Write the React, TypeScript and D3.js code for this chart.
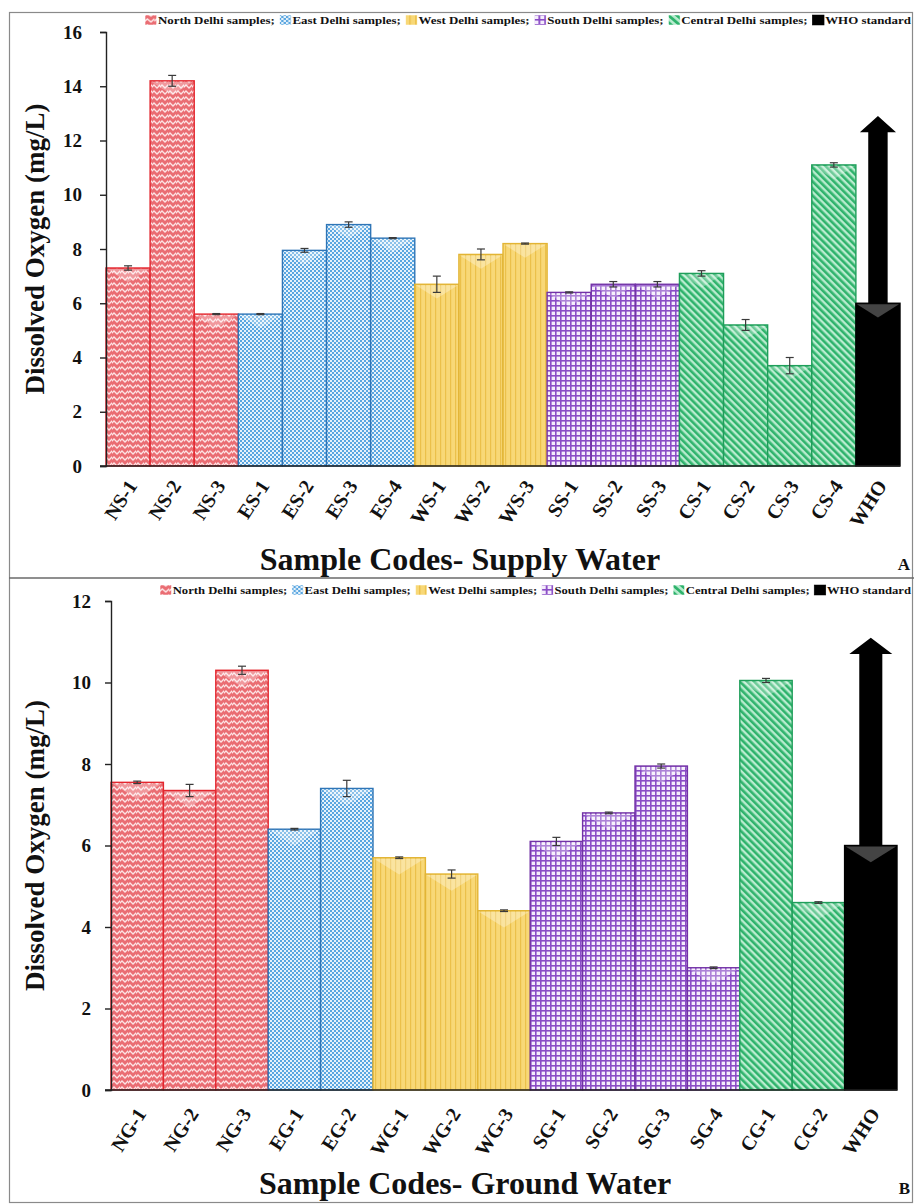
import React, { useEffect, useRef } from "react";
import * as d3 from "d3";

// supply water (panel A)
const supplyCodes = ["NS-1", "NS-2", "NS-3", "ES-1", "ES-2", "ES-3", "ES-4", "WS-1", "WS-2", "WS-3", "SS-1", "SS-2", "SS-3", "CS-1", "CS-2", "CS-3", "CS-4", "WHO"];
const supplyValues = [7.3, 14.2, 5.6, 5.6, 7.95, 8.9, 8.4, 6.7, 7.8, 8.2, 6.4, 6.7, 6.7, 7.1, 5.2, 3.7, 11.1, 6];
const supplyErrors = [0.08, 0.2, 0.02, 0.02, 0.07, 0.1, 0.02, 0.3, 0.2, 0.02, 0.02, 0.1, 0.1, 0.1, 0.2, 0.3, 0.08, 0];
const supplyTicks = [0, 2, 4, 6, 8, 10, 12, 14, 16];
const supplyArrow = [12.3, 12.9]; // head base, tip

// ground water (panel B)
const groundCodes = ["NG-1", "NG-2", "NG-3", "EG-1", "EG-2", "WG-1", "WG-2", "WG-3", "SG-1", "SG-2", "SG-3", "SG-4", "CG-1", "CG-2", "WHO"];
const groundValues = [7.55, 7.35, 10.3, 6.4, 7.4, 5.7, 5.3, 4.4, 6.1, 6.8, 7.95, 3.0, 10.05, 4.6, 6];
const groundErrors = [0.03, 0.15, 0.1, 0.02, 0.2, 0.02, 0.1, 0.02, 0.1, 0.02, 0.05, 0.02, 0.05, 0.02, 0];
const groundTicks = [0, 2, 4, 6, 8, 10, 12];
const groundArrow = [10.7, 11.1];

const regionKeys = ["N", "E", "W", "S", "C", "WHO"];
const regionLabels = ["North Delhi samples;", "East Delhi samples;", "West Delhi samples;", "South Delhi samples;", "Central Delhi samples;", "WHO standard"];

const FONT = "'Liberation Serif', 'Times New Roman', serif";

const strokeColors: Record<string, string> = {
  N: "#e3262e",
  E: "#2f75b6",
  W: "#e2b434",
  S: "#7232a6",
  C: "#1f9e5a",
  WHO: "#000",
};

function regionOf(code: string) {
  return code === "WHO" ? "WHO" : code[0];
}

function addPatterns(defs: any) {
  // north: white zigzag on red
  const n = defs.append("pattern").attr("id", "pat-N").attr("patternUnits", "userSpaceOnUse")
    .attr("width", 8).attr("height", 6);
  n.append("rect").attr("width", 8).attr("height", 6).attr("fill", "#ea6d73");
  n.append("path").attr("d", "M-1,4 L2,1 L5,4 L8,1 L11,4").attr("fill", "none")
    .attr("stroke", "#fde3e4").attr("stroke-width", 1.3);

  // east: small checker
  const e = defs.append("pattern").attr("id", "pat-E").attr("patternUnits", "userSpaceOnUse")
    .attr("width", 4).attr("height", 4);
  e.append("rect").attr("width", 4).attr("height", 4).attr("fill", "#e6f2fb");
  e.append("rect").attr("width", 2).attr("height", 2).attr("fill", "#5aa6e0");
  e.append("rect").attr("x", 2).attr("y", 2).attr("width", 2).attr("height", 2).attr("fill", "#5aa6e0");

  // west: vertical stripes
  const w = defs.append("pattern").attr("id", "pat-W").attr("patternUnits", "userSpaceOnUse")
    .attr("width", 5).attr("height", 5);
  w.append("rect").attr("width", 5).attr("height", 5).attr("fill", "#f8d877");
  w.append("rect").attr("width", 1.2).attr("height", 5).attr("fill", "#ebc04a");

  // south: grid
  const s = defs.append("pattern").attr("id", "pat-S").attr("patternUnits", "userSpaceOnUse")
    .attr("width", 5).attr("height", 5);
  s.append("rect").attr("width", 5).attr("height", 5).attr("fill", "#8a4cc6");
  s.append("rect").attr("x", 1.6).attr("y", 1.6).attr("width", 3.4).attr("height", 3.4).attr("fill", "#f4ecfb");

  // central: diagonal stripes
  const c = defs.append("pattern").attr("id", "pat-C").attr("patternUnits", "userSpaceOnUse")
    .attr("width", 5).attr("height", 5).attr("patternTransform", "rotate(-45)");
  c.append("rect").attr("width", 5).attr("height", 5).attr("fill", "#b9eccf");
  c.append("rect").attr("width", 2.6).attr("height", 5).attr("fill", "#2fb36c");

  const k = defs.append("pattern").attr("id", "pat-WHO").attr("patternUnits", "userSpaceOnUse")
    .attr("width", 4).attr("height", 4);
  k.append("rect").attr("width", 4).attr("height", 4).attr("fill", "#000");
}

function drawPanel(svg: any, o: any) {
  const g = svg.append("g");
  const x = d3.scaleBand().domain(o.codes).range([o.x0, o.x1]).padding(0);
  const y = d3.scaleLinear().domain([0, o.yMax]).range([o.yBottom, o.yTop]);
  const bw = x.bandwidth();

  // bars
  const bars = g.selectAll(".bar").data(o.codes).join("g").attr("class", "bar");
  bars.append("rect")
    .attr("x", (d: string) => x(d)!)
    .attr("y", (d: string, i: number) => y(o.values[i]))
    .attr("width", bw)
    .attr("height", (d: string, i: number) => y(0) - y(o.values[i]))
    .attr("fill", (d: string) => `url(#pat-${regionOf(d)})`)
    .attr("stroke", (d: string) => strokeColors[regionOf(d)])
    .attr("stroke-width", 1.4);
  // bevel highlight at the top
  bars.append("path")
    .attr("d", (d: string, i: number) => {
      const x0 = x(d)! + 1, x1 = x(d)! + bw - 1, t = y(o.values[i]) + 1;
      return `M${x0},${t} L${x1},${t} L${(x0 + x1) / 2},${t + bw * 0.3} Z`;
    })
    .attr("fill", (d: string) => (d === "WHO" ? "#555" : "#fff"))
    .attr("opacity", (d: string) => (d === "WHO" ? 0.8 : 0.3));

  // error bars
  const eb = g.selectAll(".err").data(o.codes.filter((d: string, i: number) => o.errors[i] > 0))
    .join("g").attr("class", "err").attr("stroke", "#3a3a3a").attr("stroke-width", 1.2);
  eb.each(function (this: any, d: string) {
    const i = o.codes.indexOf(d);
    const cx = x(d)! + bw / 2;
    const lo = y(o.values[i] - o.errors[i]), hi = y(o.values[i] + o.errors[i]);
    const s = d3.select(this);
    s.append("line").attr("x1", cx).attr("x2", cx).attr("y1", lo).attr("y2", hi);
    s.append("line").attr("x1", cx - 4).attr("x2", cx + 4).attr("y1", lo).attr("y2", lo);
    s.append("line").attr("x1", cx - 4).attr("x2", cx + 4).attr("y1", hi).attr("y2", hi);
  });

  // WHO arrow
  const wi = o.codes.indexOf("WHO");
  const wc = x("WHO")! + bw / 2;
  const sw = bw * 0.22, hw = bw * 0.41;
  const yTop = y(o.values[wi]), yBase = y(o.arrow[0]), yTip = y(o.arrow[1]);
  g.append("path")
    .attr("d", `M${wc - sw},${yTop} L${wc - sw},${yBase} L${wc - hw},${yBase} L${wc},${yTip} L${wc + hw},${yBase} L${wc + sw},${yBase} L${wc + sw},${yTop} Z`)
    .attr("fill", "#000");

  // axes
  const ya = g.append("g").attr("transform", `translate(${o.x0},0)`)
    .call(d3.axisLeft(y).tickValues(o.ticks).tickSize(6).tickSizeOuter(6).tickPadding(o.tickPad));
  ya.select(".domain").attr("stroke", "#222").attr("stroke-width", 1.4);
  ya.selectAll(".tick line").attr("stroke", "#222").attr("stroke-width", 1.4);
  ya.selectAll(".tick text").attr("font-family", FONT).attr("font-weight", "bold")
    .attr("font-size", 19).attr("fill", "#111");

  g.append("line").attr("x1", o.x0 - 6).attr("x2", o.x1).attr("y1", y(0)).attr("y2", y(0))
    .attr("stroke", "#222").attr("stroke-width", 1.6);

  // x labels
  g.selectAll(".xl").data(o.codes).join("text").attr("class", "xl")
    .attr("transform", (d: string) => `translate(${x(d)! + bw / 2 + 4},${y(0) + o.xlOff}) rotate(-57)`)
    .attr("text-anchor", "end")
    .attr("dy", "0.35em")
    .attr("font-family", FONT).attr("font-weight", "bold").attr("font-size", 20).attr("fill", "#111")
    .text((d: string) => d);

  // axis titles
  g.append("text")
    .attr("transform", `translate(${o.yTitleX},${(o.yTop + o.yBottom) / 2}) rotate(-90)`)
    .attr("text-anchor", "middle")
    .attr("font-family", FONT).attr("font-weight", "bold").attr("font-size", 27).attr("fill", "#111")
    .text("Dissolved Oxygen (mg/L)");
  g.append("text")
    .attr("x", o.xTitleX).attr("y", o.xTitleY).attr("text-anchor", "middle")
    .attr("font-family", FONT).attr("font-weight", "bold").attr("font-size", 32).attr("fill", "#111")
    .text(o.xTitle);
  g.append("text")
    .attr("x", 910).attr("y", o.xTitleY).attr("text-anchor", "end")
    .attr("font-family", FONT).attr("font-weight", "bold").attr("font-size", 17).attr("fill", "#111")
    .text(o.letter);

  // legend
  const lg = g.append("g").attr("transform", `translate(${o.legendX0},${o.legendY})`);
  let cx = 0;
  regionKeys.forEach((k, i) => {
    lg.append("rect").attr("x", cx).attr("y", -9).attr("width", 10).attr("height", 10)
      .attr("fill", `url(#pat-${k})`).attr("stroke", k === "WHO" ? "#000" : "#fff").attr("stroke-width", 0.5);
    cx += 11;
    const t = lg.append("text").attr("x", cx).attr("y", 0)
      .attr("font-family", FONT).attr("font-weight", "bold").attr("font-size", 11).attr("fill", "#111")
      .text(regionLabels[i]);
    cx += (t.node() as SVGTextElement).getComputedTextLength() + 4;
  });
  const scale = (o.legendX1 - o.legendX0) / (cx - 4);
  lg.attr("transform", `translate(${o.legendX0},${o.legendY}) scale(${scale},1)`);
}

export default function App() {
  const ref = useRef<SVGSVGElement>(null);

  useEffect(() => {
    const svg = d3.select(ref.current);
    svg.selectAll("*").remove();
    addPatterns(svg.append("defs"));

    // frame
    svg.append("rect").attr("x", 9.5).attr("y", 12.5).attr("width", 903).attr("height", 1190)
      .attr("fill", "none").attr("stroke", "#8a8a8a").attr("stroke-width", 1.2);
    svg.append("line").attr("x1", 9).attr("x2", 914).attr("y1", 578).attr("y2", 578)
      .attr("stroke", "#6a6a6a").attr("stroke-width", 1.6);

    drawPanel(svg, {
      codes: supplyCodes, values: supplyValues, errors: supplyErrors, ticks: supplyTicks,
      arrow: supplyArrow, yMax: 16, x0: 106, x1: 900, yTop: 32, yBottom: 466, tickPad: 18,
      yTitleX: 44, xTitle: "Sample Codes- Supply Water", xTitleX: 460, xTitleY: 570, letter: "A",
      legendX0: 145, legendX1: 911, legendY: 24, xlOff: 16,
    });
    drawPanel(svg, {
      codes: groundCodes, values: groundValues, errors: groundErrors, ticks: groundTicks,
      arrow: groundArrow, yMax: 12, x0: 111, x1: 897, yTop: 601, yBottom: 1090, tickPad: 14,
      yTitleX: 44, xTitle: "Sample Codes- Ground Water", xTitleX: 465, xTitleY: 1194, letter: "B",
      legendX0: 160, legendX1: 911, legendY: 594, xlOff: 20,
    });
  }, []);

  return (
    <svg ref={ref} width={914} height={1204}
      style={{ position: "absolute", left: 0, top: 0, background: "#fff", display: "block" }} />
  );
}
